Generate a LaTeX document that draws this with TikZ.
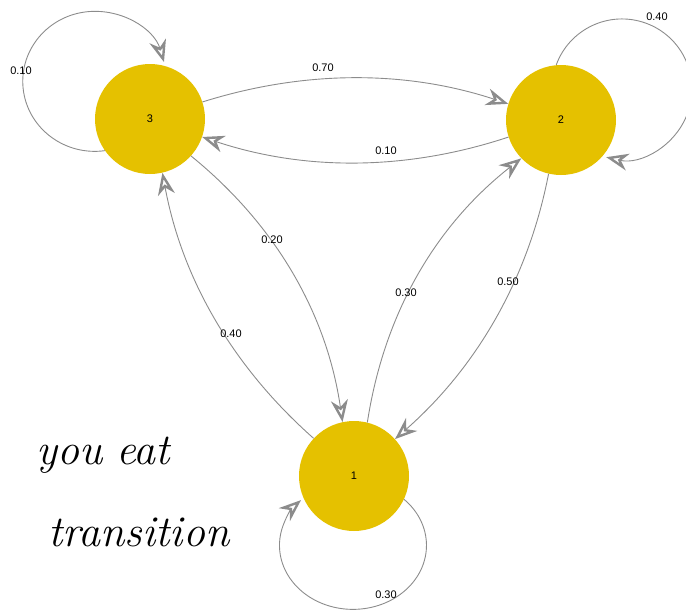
\documentclass[tikz,border=0pt]{standalone}
\usepackage{fontspec}
\newfontfamily\lblfont{Liberation Sans}
\usetikzlibrary{arrows.meta}
\definecolor{nodefill}{HTML}{E5C100}
\definecolor{edgegray}{HTML}{8C8C8C}
\begin{document}
\begin{tikzpicture}[x=1pt,y=-1pt,
  state/.style={circle, fill=nodefill, minimum size=110pt, inner sep=0pt, font=\lblfont\fontsize{11}{13}\selectfont},
  edge/.style={draw=edgegray, line width=0.9pt, -{Stealth[length=22pt, width=17pt, inset=7pt, fill=white, line width=2.4pt]}},
  wt/.style={font=\lblfont\fontsize{11}{13}\selectfont, inner sep=0pt},
  hand/.style={font=\itshape\fontsize{44}{48}\selectfont, inner sep=0pt}]
\useasboundingbox (0,0) rectangle (686,611);
\node[state] (n3) at (150,119) {3};
\node[state] (n2) at (561,120) {2};
\node[state] (n1) at (354,476) {1};
% edges between nodes
\draw[edge] (n3.18) .. controls (304,70) and (406,70) .. (n2.163);
\draw[edge] (n2.198) .. controls (406,171) and (304,171) .. (n3.341);
\draw[edge] (n3.-42) .. controls (276,225) and (327,314) .. (n1.102);
\draw[edge] (n1.137) .. controls (233,367) and (182,279) .. (n3.283);
\draw[edge] (n1.76) .. controls (384,314) and (435,226) .. (n2.224);
\draw[edge] (n2.257) .. controls (528,280) and (476,368) .. (n1.42);
% self loops
\draw[edge] (n3.215) arc[start angle=82, end angle=344, x radius=72, y radius=70];
\draw[edge] (n2.95) arc[start angle=200, end angle=463, radius=70];
\draw[edge] (n1.-25) arc[start angle=-46, end angle=225, x radius=73.5, y radius=64];
% weights
\node[wt] (w32) at (323,68) {0.70};
\node[wt] (w23) at (386,151) {0.10};
\node[wt] (w31) at (272,240) {0.20};
\node[wt] (w13) at (231,334) {0.40};
\node[wt] (w12) at (406,293) {0.30};
\node[wt] (w21) at (508,282) {0.50};
\node[wt] (w33) at (21,71) {0.10};
\node[wt] (w22) at (657,17) {0.40};
\node[wt] (w11) at (386,595) {0.30};
% handwritten note
\node[hand, anchor=west] (h1) at (36,455) {you\hspace{14pt}eat};
\node[hand, anchor=west] (h2) at (48,532) {transition};
\end{tikzpicture}
\end{document}
